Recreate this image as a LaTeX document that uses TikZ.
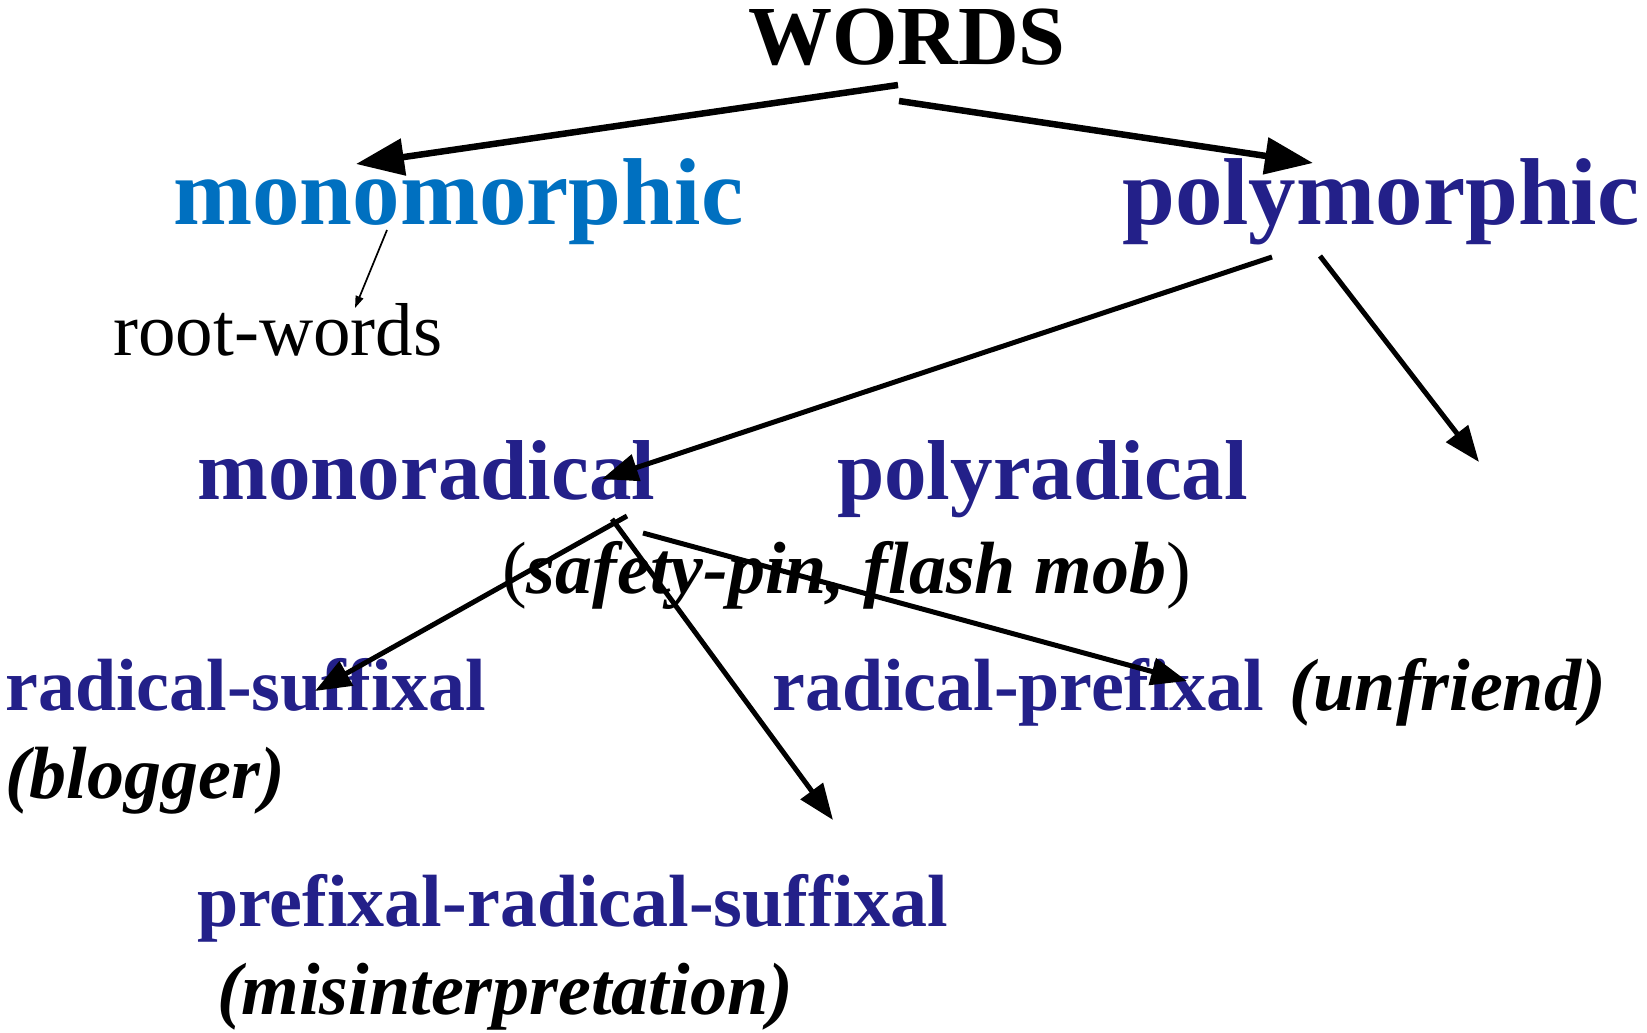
\documentclass[tikz,border=0pt]{standalone}
\usepackage{fontspec}
\setmainfont{Liberation Serif}
\usepackage{tikz}
\usetikzlibrary{arrows.meta,positioning,calc}
\definecolor{lightblue}{RGB}{0,112,192}
\definecolor{navy}{RGB}{35,32,137}
\newcommand{\up}[1]{{\normalfont #1}}

\begin{document}
\begin{tikzpicture}[
    x=1pt, y=-1pt,
    lbl/.style={inner sep=0pt, anchor=base west},
    headword/.style={inner sep=0pt, anchor=base, font=\fontsize{84}{84}\selectfont\bfseries},
    kind/.style={lbl, text=lightblue, font=\fontsize{95}{95}\selectfont\bfseries},
    bigkind/.style={lbl, text=navy, font=\fontsize{95}{95}\selectfont\bfseries},
    midkind/.style={lbl, text=navy, font=\fontsize{85}{85}\selectfont\bfseries},
    subkind/.style={lbl, text=navy, font=\fontsize{74}{74}\selectfont\bfseries},
    sample/.style={lbl, font=\fontsize{74}{74}\selectfont\bfseries\itshape},
    plain/.style={lbl, font=\fontsize{75}{75}\selectfont},
    bigarrow/.style={line width=6.5pt, -{Triangle[length=48pt,width=36pt]}},
    midarrow/.style={line width=5pt, -{Triangle[length=36pt,width=27pt]}},
    thinarrow/.style={line width=1.7pt, -{Triangle[length=12pt,width=8pt]}}
]
\useasboundingbox (0,0) rectangle (1647,1033);

% top
\node[headword] (words) at (907,65) {WORDS};

% first level
\node[kind] (mono) at (173,224) {monomorphic};
\node[bigkind] (poly) at (1122,224) {polymorphic};
\node[plain] (root) at (113,355) {root-words};

% second level
\node[midkind] (monorad) at (197,499) {monoradical};
\node[midkind] (polyrad) at (837,499) {polyradical};
\node[sample] (safety) at (502,593) {\up{(}safety-pin, flash mob\up{)}};
\coordinate (polyfree) at (1479,462);

% third level
\node[subkind] (rsuf) at (5,710) {radical-suffixal};
\node[sample] (blogger) at (5,798) {(blogger)};
\node[subkind] (rpre) at (772,710) {radical-prefixal};
\node[sample] (unfriend) at (1289,710) {(unfriend)};
\node[subkind] (prs) at (197,926) {prefixal-radical-suffixal};
\node[sample] (misint) at (217,1014) {(misinterpretation)};

% arrows
\draw[bigarrow] ($(words.base)+(-9,20)$) -- ($(mono.base west)+(183,-60)$);
\draw[bigarrow] ($(words.base)+(-8,36)$) -- ($(poly.base west)+(191,-61)$);
\draw[thinarrow] ($(mono.base west)+(214,6)$) -- ($(root.base west)+(242,-47)$);
\draw[midarrow] ($(poly.base west)+(150,33)$) -- ($(monorad.base west)+(405,-20)$);
\draw[midarrow] ($(poly.base west)+(198,32)$) -- (polyfree);
\draw[midarrow] ($(monorad.base west)+(430,17)$) -- ($(rsuf.base west)+(310,-19)$);
\draw[midarrow] ($(monorad.base west)+(415,20)$) -- ($(prs.base west)+(636,-106)$);
\draw[midarrow] ($(monorad.base west)+(446,34)$) -- ($(rpre.base west)+(415,-29)$);

\end{tikzpicture}
\end{document}
